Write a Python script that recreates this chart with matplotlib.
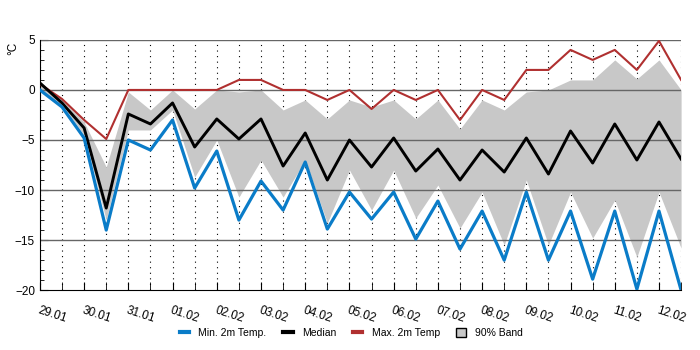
import matplotlib

matplotlib.use("Agg")
import matplotlib.pyplot as plt
from matplotlib.lines import Line2D
from matplotlib.patches import Patch
import numpy as np

plt.rcParams["font.family"] = ["Liberation Sans", "DejaVu Sans"]

# one value every 12 h, starting 29.01 00 UTC
days = ["29.01", "30.01", "31.01", "01.02", "02.02", "03.02", "04.02", "05.02",
        "06.02", "07.02", "08.02", "09.02", "10.02", "11.02", "12.02"]

t_min = [0, -1.7, -4.8, -14, -5, -6, -3, -9.8, -6.1, -13,
         -9.1, -12, -7.2, -13.9, -10.2, -12.9, -10.2, -14.9, -11.1, -15.9,
         -12.1, -17, -10.2, -17, -12.1, -18.9, -12.1, -19.9, -12.1, -20]
t_med = [0.7, -1.3, -3.8, -11.8, -2.4, -3.4, -1.3, -5.7, -2.9, -4.9,
         -2.9, -7.6, -4.3, -9, -5, -7.7, -4.8, -8.1, -5.9, -9,
         -6, -8.2, -4.8, -8.4, -4.1, -7.3, -3.4, -7, -3.2, -6.9]
t_max = [0.6, -0.9, -3, -4.9, 0, 0, 0, 0, 0, 1,
         1, 0, 0, -1, 0, -1.9, 0, -1, 0, -3,
         0, -1, 2, 2, 4, 3, 4, 2, 4.9, 1]
band_hi = [0.7, -1, -3.2, -7.7, -0.2, -2, 0, -1.9, 0, -0.2,
           0, -2, -1, -2.9, -1, -1.7, -1, -2.9, -1, -3.9,
           -1, -2, -0.2, 0, 1, 1, 3, 1.1, 3, 0]
band_lo = [0, -1.5, -4.5, -13, -4, -4, -2, -8.7, -5, -10.7,
           -7, -10.7, -7, -13.3, -8, -12, -8, -12.8, -9.5, -13.8,
           -10.2, -15.5, -9, -15.5, -10.2, -14.8, -11, -16.7, -10.2, -15.8]

x = np.arange(len(t_min))

fig = plt.figure(figsize=(7, 3.5), dpi=100)
ax = fig.add_axes([0.057, 0.171, 0.916, 0.715])

ax.fill_between(x, band_lo, band_hi, color="#c8c8c8", lw=0, zorder=1)
for v in range(-15, 6, 5):
    ax.axhline(v, color="#666666", lw=1, zorder=2)
ax.plot(x, t_max, color="#b03030", lw=1.5, zorder=3)
ax.plot(x, t_med, color="black", lw=2.1, zorder=4)
ax.plot(x, t_min, color="#0a7cc8", lw=2.3, zorder=5)

ax.set_xlim(0, len(x) - 1)
ax.set_ylim(-20, 5)
ax.set_yticks(range(-20, 6, 5))
ax.set_yticks(range(-20, 6), minor=True)
ax.set_xticks(x[::2])
ax.set_xticks(x, minor=True)
ax.set_xticklabels(days, rotation=-18, ha="left", rotation_mode="anchor", fontsize=8.5)
ax.tick_params(axis="y", labelsize=8.5)
ax.tick_params(axis="both", which="both", direction="in")
ax.tick_params(axis="x", which="major", length=6, pad=10)
ax.tick_params(axis="x", which="minor", length=6)
ax.tick_params(axis="y", which="major", length=6)
ax.tick_params(axis="y", which="minor", length=3)
ax.xaxis.grid(True, which="both", color="black", lw=0.8, linestyle=(0, (1, 4)), zorder=0)
ax.set_axisbelow(True)
for s in ["top", "right"]:
    ax.spines[s].set_visible(False)

fig.text(0.01, 0.862, "°C", rotation=90, fontsize=8.5, ha="left", va="center")

handles = [
    Line2D([], [], color="#0a7cc8", lw=3),
    Line2D([], [], color="black", lw=3),
    Line2D([], [], color="#b03030", lw=3),
    Patch(facecolor="#c8c8c8", edgecolor="black", lw=1),
]
labels = ["Min. 2m Temp.", "Median", "Max. 2m Temp", "90% Band"]
fig.legend(handles, labels, loc="center", bbox_to_anchor=(0.502, 0.048), ncol=4,
           frameon=False, fontsize=7.5, handlelength=0.9, handleheight=0.9,
           columnspacing=1.6, handletextpad=0.9)

fig.savefig("out.png", dpi=100)
